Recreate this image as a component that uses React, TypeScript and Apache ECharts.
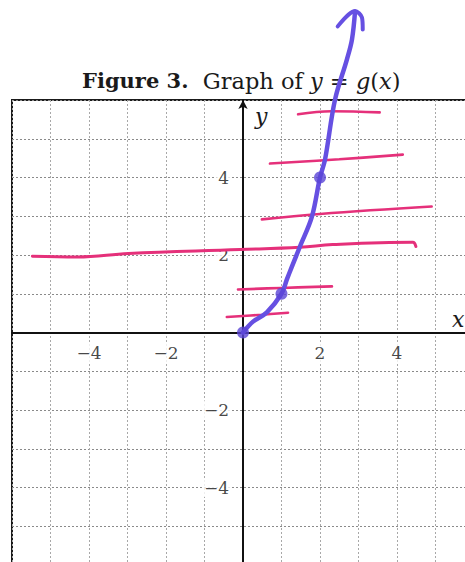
import React, { useEffect, useRef } from "react";
import * as echarts from "echarts";

// Axis ranges and labelled ticks
const xRange = [-6, 6];
const yRange = [-6, 6];
const xTickLabels = [-4, -2, 2, 4];
const yTickLabels = [-4, -2, 2, 4];

// Hand-drawn curve through the marked points, ending in an arrow
const curvePoints = [
  [0, 0], [0.26, 0.28], [0.62, 0.52], [1.0, 1.0], [1.14, 1.37], [1.27, 1.7],
  [1.48, 2.22], [1.79, 2.99], [2.0, 4.0], [2.13, 4.46], [2.39, 6.01],
  [2.7, 7.05], [2.83, 7.56], [2.91, 8.28],
];
const markedPoints = [[0, 0], [1, 1], [2, 4]];
const arrowHead = [[2.46, 7.9], [2.91, 8.3], [3.09, 8.13], [3.11, 7.82]];

// Hand-drawn horizontal strokes
const stroke1 = [[1.43, 5.63], [2.3, 5.71], [3.55, 5.68]];
const stroke2 = [[0.7, 4.36], [2.5, 4.47], [4.15, 4.59]];
const stroke3 = [[0.49, 2.92], [2.0, 3.06], [4.9, 3.25]];
const stroke4 = [
  [-5.47, 1.97], [-4.3, 1.95], [-2.97, 2.04], [-0.08, 2.14], [1.48, 2.2],
  [2.33, 2.27], [4.41, 2.33], [4.49, 2.22],
];
const stroke5 = [[-0.13, 1.11], [1.0, 1.15], [2.31, 1.19]];
const stroke6 = [[-0.42, 0.4], [0.5, 0.46], [1.17, 0.51]];

const PURPLE = "#6650e2";
const PINK = "#e5307a";
const SERIF = "'DejaVu Serif', 'Liberation Serif', serif";
const INK = "#1a1a1a";

const minus = (v: number) => (v < 0 ? "\u2212" + Math.abs(v) : String(v));

const tickLabelStyle = {
  show: true,
  fontFamily: SERIF,
  fontSize: 17,
  color: "#151515",
  backgroundColor: "#fff",
  padding: [1, 2],
};

export default function App() {
  const ref = useRef<HTMLDivElement>(null);

  useEffect(() => {
    if (!ref.current) return;
    const chart = echarts.init(ref.current, null, { renderer: "svg" });

    const pinkSeries = [stroke1, stroke2, stroke3, stroke4, stroke5, stroke6].map(
      (d, i) => ({
        type: "line",
        data: d,
        smooth: 0.4,
        symbol: "none",
        clip: false,
        z: 8,
        lineStyle: { color: PINK, width: i === 3 ? 3 : 2.6, cap: "round" },
      })
    );

    chart.setOption({
      animation: false,
      backgroundColor: "#fff",
      title: {
        text: "{b|Figure 3.}{r|  Graph of }{i|y}{r| = }{i|g}{r|(}{i|x}{r|)}",
        left: 77,
        top: 64,
        textStyle: {
          fontWeight: "normal",
          rich: {
            b: { fontFamily: SERIF, fontWeight: "bold", fontSize: 21, color: INK },
            r: { fontFamily: SERIF, fontWeight: "normal", fontSize: 22.5, color: INK },
            i: {
              fontFamily: SERIF,
              fontWeight: "normal",
              fontStyle: "italic",
              fontSize: 22.5,
              color: INK,
            },
          },
        },
      },
      grid: {
        left: 12,
        top: 100,
        width: 462,
        height: 465,
        outerBoundsMode: "none",
        containLabel: false,
        show: true,
        borderColor: INK,
        borderWidth: 2,
        backgroundColor: "transparent",
      },
      xAxis: {
        type: "value",
        min: xRange[0],
        max: xRange[1],
        interval: 1,
        name: "x",
        nameLocation: "end",
        nameGap: -22,
        nameTextStyle: {
          fontFamily: SERIF,
          fontStyle: "italic",
          fontSize: 22,
          color: INK,
          verticalAlign: "bottom",
          padding: [0, 0, 2, 0],
        },
        axisLine: { onZero: true, lineStyle: { color: "#111", width: 2 } },
        axisTick: { show: false },
        axisLabel: { show: false },
        splitLine: {
          show: true,
          lineStyle: { color: "#a8a8a8", width: 1, type: [2, 2] },
        },
      },
      yAxis: {
        type: "value",
        min: yRange[0],
        max: yRange[1],
        interval: 1,
        name: "y",
        nameLocation: "end",
        nameGap: -27,
        nameTextStyle: {
          fontFamily: SERIF,
          fontStyle: "italic",
          fontSize: 22,
          color: INK,
          align: "left",
          padding: [0, 0, 0, 12],
        },
        axisLine: {
          onZero: true,
          symbol: ["none", "arrow"],
          symbolSize: [7, 9],
          lineStyle: { color: "#111", width: 2 },
        },
        axisTick: { show: false },
        axisLabel: { show: false },
        splitLine: {
          show: true,
          lineStyle: { color: "#8a8a8a", width: 1, type: [2, 2] },
        },
      },
      series: [
        // tick labels sitting along the axes
        {
          type: "scatter",
          data: xTickLabels.map((v) => [v, 0]),
          symbolSize: 0,
          silent: true,
          z: 5,
          label: {
            ...tickLabelStyle,
            position: "bottom",
            distance: 11,
            formatter: (p: any) => minus(p.value[0]),
          },
        },
        {
          type: "scatter",
          data: yTickLabels.map((v) => [0, v]),
          symbolSize: 0,
          silent: true,
          z: 5,
          label: {
            ...tickLabelStyle,
            position: "left",
            distance: 12,
            formatter: (p: any) => minus(p.value[1]),
          },
        },
        ...pinkSeries,
        {
          type: "line",
          data: curvePoints,
          smooth: 0.35,
          symbol: "none",
          clip: false,
          z: 10,
          lineStyle: { color: PURPLE, width: 4.5, cap: "round", join: "round" },
        },
        {
          type: "line",
          data: arrowHead,
          smooth: 0.3,
          symbol: "none",
          clip: false,
          z: 10,
          lineStyle: { color: PURPLE, width: 4, cap: "round", join: "round" },
        },
        {
          type: "scatter",
          data: markedPoints,
          symbolSize: 12,
          clip: false,
          z: 11,
          itemStyle: { color: "#5a45d6" },
        },
      ],
    });

    return () => chart.dispose();
  }, []);

  return (
    <div
      ref={ref}
      style={{ position: "fixed", left: 0, top: 0, width: 465, height: 562 }}
    />
  );
}
